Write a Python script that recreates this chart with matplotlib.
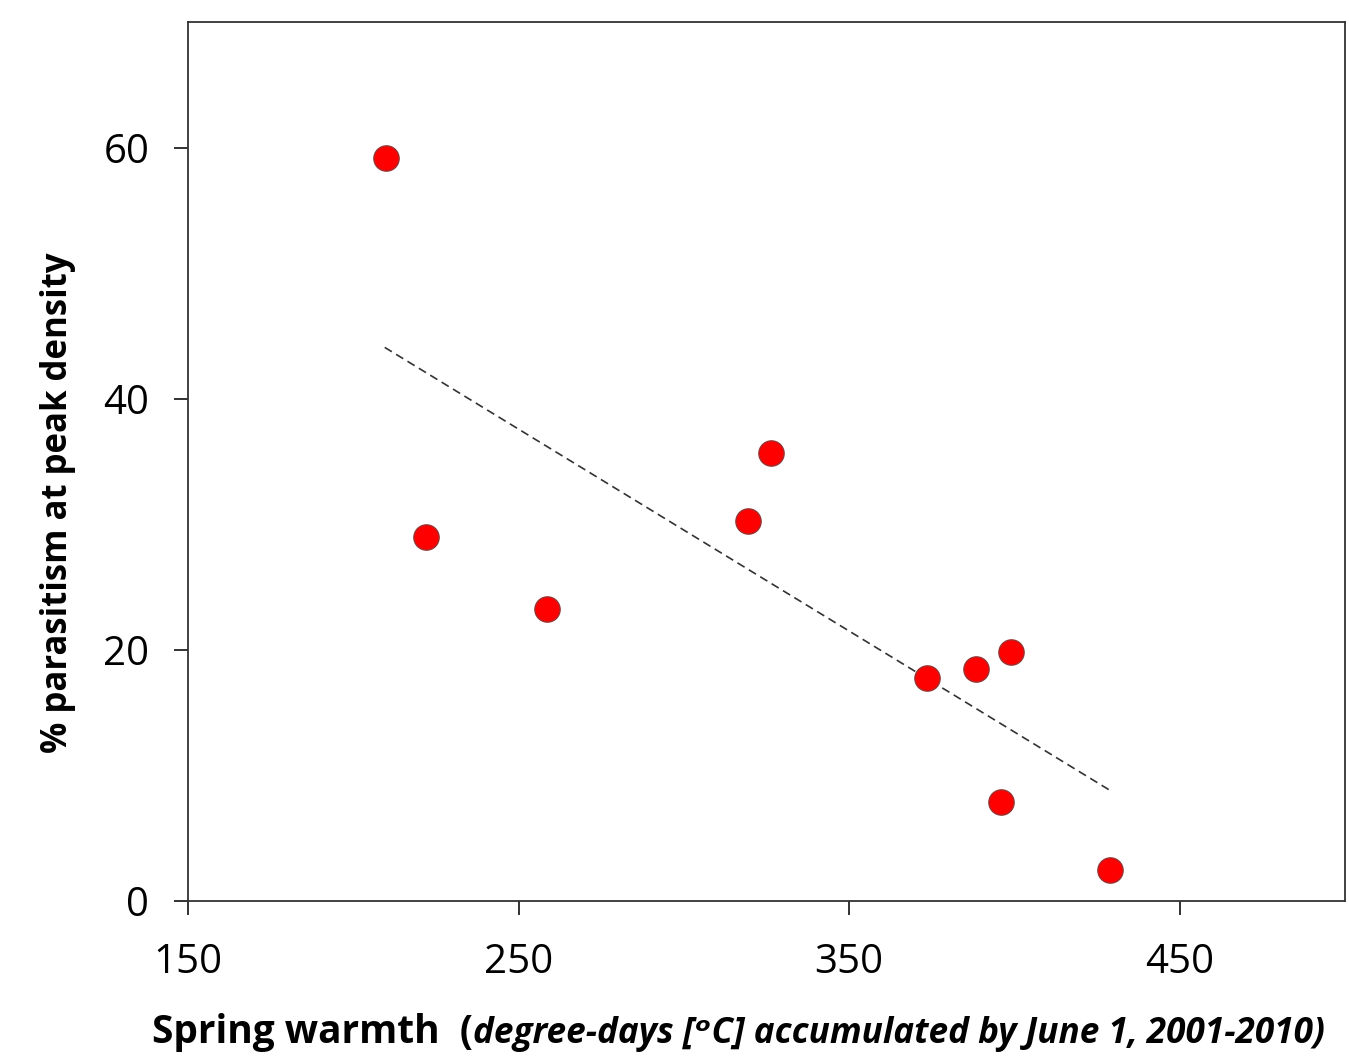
import matplotlib
matplotlib.use("Agg")
import matplotlib.pyplot as plt

# spring warmth (degree-days) vs % parasitism
warmth = [210, 222, 258.5, 319.5, 326.5, 373.5, 388.5, 399, 396, 429]
parasitism = [59.2, 29.0, 23.3, 30.3, 35.7, 17.8, 18.5, 19.8, 7.9, 2.5]

# fitted trend line end points
trend_x = [209.5, 429]
trend_y = [44.1, 8.8]

xticks = [150, 250, 350, 450]
yticks = [0, 20, 40, 60]

plt.rcParams['font.family'] = ['Open Sans', 'DejaVu Sans']

fig = plt.figure(figsize=(13.49, 10.60), dpi=100)
ax = fig.add_axes([0.1394, 0.15, 0.8576, 0.829])

ax.plot(trend_x, trend_y, linestyle=(0, (5, 3)), color="#333333", linewidth=1.2, zorder=2)
ax.scatter(warmth, parasitism, s=330, color="#ff0000", edgecolor="#9a3030",
           linewidth=1.0, zorder=3)

ax.set_xlim(150, 500)
ax.set_ylim(0, 70)
ax.set_xticks(xticks)
ax.set_yticks(yticks)
ax.tick_params(axis="both", direction="out", length=10, width=1.3,
               color="#222222", labelsize=29)
ax.tick_params(axis="x", pad=20)
ax.tick_params(axis="y", pad=18)
for sp in ax.spines.values():
    sp.set_linewidth(1.3)
    sp.set_color("#333333")

fig.text(0.043, 0.526, "% parasitism at peak density", rotation=90,
         fontsize=25, fontweight="bold", ha="center", va="center")

t1 = fig.text(0.113, 0.016, "Spring warmth  (", fontsize=28, fontweight="bold",
              ha="left", va="baseline")
fig.canvas.draw()
bb = t1.get_window_extent()
x2 = bb.x1 / fig.bbox.width
fig.text(x2, 0.016, "degree-days [\u1d52C] accumulated by June 1, 2001-2010)",
         fontsize=25.3, fontweight="bold", style="italic", ha="left", va="baseline")

fig.savefig("out.png", dpi=100)
